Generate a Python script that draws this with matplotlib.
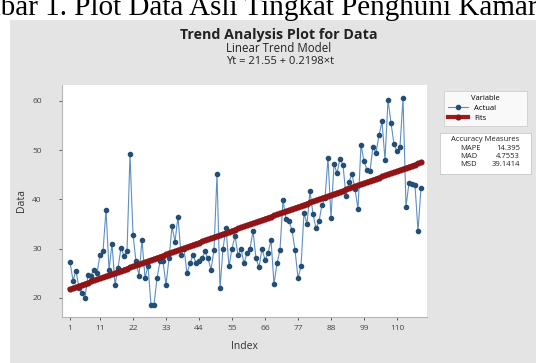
import matplotlib
matplotlib.use('Agg')
import matplotlib.pyplot as plt
import numpy as np
from matplotlib.patches import Rectangle

# ---------------- data ----------------
actual = [27.2, 23.5, 25.5, 22.0, 21.0, 20.0, 24.7, 24.5, 25.7, 25.0,
          28.7, 29.4, 37.9, 25.7, 31.0, 22.6, 26.0, 30.2, 28.5, 29.4,
          49.2, 32.8, 27.4, 24.5, 31.8, 24.0, 26.5, 18.5, 18.6, 24.0,
          27.4, 27.4, 22.6, 28.0, 34.5, 31.4, 36.5, 28.7, 30.0, 25.0,
          27.0, 28.7, 27.0, 27.4, 28.0, 29.4, 28.0, 25.7, 29.7, 45.1,
          22.0, 30.0, 34.1, 26.4, 30.0, 32.6, 28.7, 30.0, 27.0, 29.0,
          30.0, 33.5, 28.0, 26.2, 30.0, 27.7, 29.0, 31.8, 22.8, 27.0,
          29.7, 39.9, 36.0, 35.5, 33.8, 29.7, 24.0, 26.4, 37.2, 35.0,
          41.6, 37.0, 34.1, 35.5, 38.9, 40.2, 48.4, 36.2, 47.1, 45.3,
          48.2, 47.0, 40.6, 43.6, 45.1, 42.0, 38.1, 51.1, 47.7, 46.0,
          45.7, 50.7, 49.4, 53.0, 55.8, 48.0, 60.2, 55.5, 51.2, 49.7,
          50.7, 60.5, 38.5, 43.3, 43.0, 42.9, 33.5, 42.3]
intercept = 21.55
slope = 0.2198
x_ticks = [1, 11, 22, 33, 44, 55, 66, 77, 88, 99, 110]
y_ticks = [20, 30, 40, 50, 60]
acc_labels = ['MAPE', 'MAD', 'MSD']
acc_values = ['14.395', '4.7553', '39.1414']

index = np.arange(1, len(actual) + 1)
fits = intercept + slope * index

# ---------------- layout ----------------
W, H = 536, 363
fig = plt.figure(figsize=(W / 100, H / 100), dpi=100)
fig.patch.set_facecolor('white')

def fx(px):
    return px / W

def fy(py):
    return 1 - py / H

SANS = ['Open Sans', 'DejaVu Sans']
GRAY_BG = '#e4e4e4'
TXT = '#222222'

fig.add_artist(Rectangle((fx(10), 0), 1 - fx(10), fy(20), transform=fig.transFigure,
                         facecolor=GRAY_BG, edgecolor='none', zorder=0))

# caption (cropped document text)
fig.text(-0.104, fy(15), 'Gambar 1. Plot Data Asli Tingkat Penghuni Kamar Hotel',
         family='Liberation Serif', fontsize=21, va='baseline', ha='left', color='black')

# titles
fig.text(fx(279), fy(35), 'Trend Analysis Plot for Data', family=SANS, fontweight='bold',
         fontsize=10.3, ha='center', va='center', color=TXT)
fig.text(fx(279), fy(49), 'Linear Trend Model', family=SANS, fontsize=8.3,
         ha='center', va='center', color=TXT)
fig.text(fx(280), fy(62), 'Yt = 21.55 + 0.2198×t', family=SANS, fontsize=8.0,
         ha='center', va='center', color=TXT)

ax = fig.add_axes([fx(62), fy(317), fx(427) - fx(62), fy(85) - fy(317)])
ax.set_facecolor('white')
ax.plot(index, actual, color='#5d8fc2', lw=0.8, marker='o', ms=3,
        mfc='#234e75', mec='#234e75', zorder=3, label='Actual')
ax.plot(index, fits, color='#a3191b', lw=3.0, marker='o', ms=3.4,
        mfc='#8e1416', mec='#8e1416', zorder=4, label='Fits')
ax.set_xlim(-1.67, 120)
ax.set_ylim(16.1, 63.2)
ax.set_xticks(x_ticks)
ax.set_yticks(y_ticks)
ax.set_xticklabels([str(t) for t in x_ticks], family=SANS)
ax.set_yticklabels([str(t) for t in y_ticks], family=SANS)
ax.tick_params(labelsize=6, colors='#444444', length=2.5, width=0.6)
ax.tick_params(axis='y', pad=12)
for s in ['top', 'right']:
    ax.spines[s].set_visible(False)
for s in ['left', 'bottom']:
    ax.spines[s].set_color('#b5b5b5')
    ax.spines[s].set_linewidth(0.8)
ax.set_xlabel('Index', family=SANS, fontsize=7.5, color='#333333', labelpad=6)
ax.set_ylabel('Data', family=SANS, fontsize=7.5, color='#333333', labelpad=4)

# legend
leg = ax.legend(title='Variable', loc='upper left',
                bbox_to_anchor=(fx(440), fy(129), fx(531) - fx(440), fy(87) - fy(129)),
                bbox_transform=fig.transFigure, mode='expand',
                title_fontsize=5.5, frameon=True, fancybox=False, edgecolor='#c8c8c8',
                handlelength=2.6, borderpad=0.6, labelspacing=0.3,
                prop={'family': SANS, 'size': 5.5})
leg.get_frame().set_linewidth(0.6)
leg.get_title().set_family(SANS)

# accuracy box
acc = fig.add_axes([fx(440), fy(174), fx(531) - fx(440), fy(133) - fy(174)])
acc.set_xticks([])
acc.set_yticks([])
acc.set_xlim(0, 1)
acc.set_ylim(0, 1)
for s in acc.spines.values():
    s.set_color('#c8c8c8')
    s.set_linewidth(0.6)
acc.text(0.5, 0.84, 'Accuracy Measures', ha='center', va='center', fontsize=5.5,
         family=SANS, color=TXT)
for k, (lab, val) in enumerate(zip(acc_labels, acc_values)):
    yy = 0.62 - k * 0.2
    acc.text(0.22, yy, lab, ha='left', va='center', fontsize=5.5, family=SANS, color=TXT)
    acc.text(0.88, yy, val, ha='right', va='center', fontsize=5.5, family=SANS, color=TXT)

fig.savefig('out.png', dpi=100)
